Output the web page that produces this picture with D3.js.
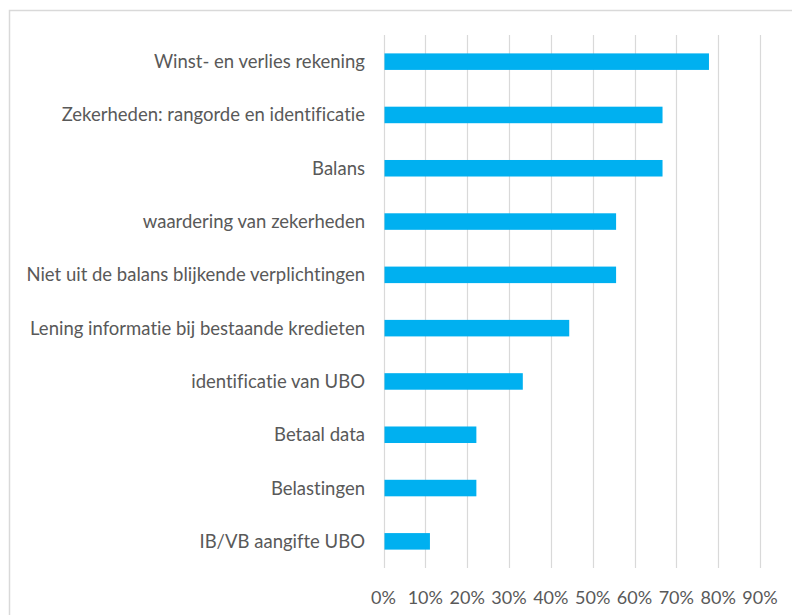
<html>
<head>
  <script src="https://d3js.org/d3.v7.min.js"></script>
  <style>
    body { margin: 0; background: #fff; }
    text { font-family: Lato, "Open Sans", sans-serif; fill: #595959; font-variant-ligatures: none; }
  </style>
</head>
<body>
  <div id="chart"></div>
  <script>
    // categories top to bottom, share of respondents
    var categories = [
      "Winst- en verlies rekening",
      "Zekerheden: rangorde en identificatie",
      "Balans",
      "waardering van zekerheden",
      "Niet uit de balans blijkende verplichtingen",
      "Lening informatie bij bestaande kredieten",
      "identificatie van UBO",
      "Betaal data",
      "Belastingen",
      "IB/VB aangifte UBO"
    ];
    var values = [0.778, 0.667, 0.667, 0.556, 0.556, 0.444, 0.333, 0.222, 0.222, 0.111];
    var ticks = [0, 0.1, 0.2, 0.3, 0.4, 0.5, 0.6, 0.7, 0.8, 0.9];

    var width = 792, height = 615;
    var svg = d3.select("#chart").append("svg")
      .attr("width", width).attr("height", height);

    // chart area border
    svg.append("rect")
      .attr("x", 9.5).attr("y", 10.5)
      .attr("width", 800).attr("height", 620)
      .attr("fill", "none").attr("stroke", "#d9d9d9").attr("stroke-width", 1.5);

    var x = d3.scaleLinear().domain([0, 0.9]).range([383.5, 760]);
    var y = d3.scaleBand().domain(categories).range([35, 568]).paddingInner(0.69).paddingOuter(0.345);

    // gridlines
    svg.selectAll("line.grid").data(ticks).enter().append("line")
      .attr("class", "grid")
      .attr("x1", function(d){ return Math.round(x(d)) + 0.5; })
      .attr("x2", function(d){ return Math.round(x(d)) + 0.5; })
      .attr("y1", 35).attr("y2", 568)
      .attr("stroke", "#d9d9d9").attr("stroke-width", 1.2);

    svg.selectAll("rect.bar").data(values).enter().append("rect")
      .attr("class", "bar")
      .attr("x", x(0) + 1)
      .attr("y", function(d, i){ return y(categories[i]); })
      .attr("width", function(d){ return x(d) - x(0) - 1; })
      .attr("height", y.bandwidth())
      .attr("fill", "#00b0f0");

    // category labels
    svg.selectAll("text.cat").data(categories).enter().append("text")
      .attr("class", "cat")
      .attr("x", 365)
      .attr("y", function(d){ return y(d) + y.bandwidth() / 2; })
      .attr("dy", "0.35em")
      .attr("text-anchor", "end")
      .style("font-size", "18.5px")
      .text(function(d){ return d; });

    // x axis labels
    svg.selectAll("text.tick").data(ticks).enter().append("text")
      .attr("class", "tick")
      .attr("x", function(d){ return x(d); })
      .attr("y", 598)
      .attr("dy", "0.35em")
      .attr("text-anchor", "middle")
      .style("font-size", "18px")
      .text(function(d){ return d3.format(".0%")(d); });
  </script>
</body>
</html>
